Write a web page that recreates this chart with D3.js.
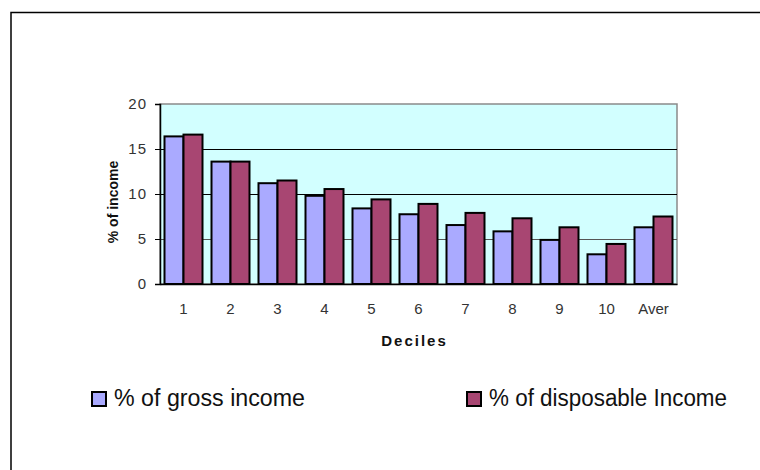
<!DOCTYPE html>
<html><head><meta charset="utf-8">
<script src="https://cdn.jsdelivr.net/npm/d3@7"></script>
<style>body{margin:0;background:#fff;} svg{display:block;font-family:"Liberation Sans",Arial,sans-serif;}</style>
</head><body>
<svg id="c" width="760" height="470"></svg>
<script>
const categories = ["1","2","3","4","5","6","7","8","9","10","Aver"];
const grossIncome = [16.4,13.6,11.2,9.8,8.4,7.75,6.55,5.85,4.9,3.3,6.3];
const disposableIncome = [16.6,13.6,11.5,10.55,9.4,8.9,7.9,7.3,6.3,4.45,7.5];
const seriesNames = ["% of gross income","% of disposable Income"];
const yTicks = [0,5,10,15,20];

const svg = d3.select("#c");
const L=160,R=677,T=104,B=284;
const colors=["#aaaaff","#a84672"];

// outer frame
svg.append("rect").attr("x",11).attr("y",12.5).attr("width",800).attr("height",500)
  .attr("fill","none").attr("stroke","#000").attr("stroke-width",1.5);

const x = d3.scaleBand().domain(categories).range([L,R]).paddingInner(0).paddingOuter(0);
const y = d3.scaleLinear().domain([0,20]).range([B,T]);
const inner = d3.scaleBand().domain([0,1]).range([0,x.bandwidth()]).paddingInner(0).paddingOuter(0.237);

// plot area
svg.append("rect").attr("x",L).attr("y",T).attr("width",R-L).attr("height",B-T)
  .attr("fill","#d2ffff").attr("stroke","#8a8a8a").attr("stroke-width",1.5);

// gridlines
svg.append("g").selectAll("line").data(yTicks.filter(t=>t>0&&t<20)).join("line")
  .attr("x1",L).attr("x2",R).attr("y1",d=>Math.round(y(d))+0.5).attr("y2",d=>Math.round(y(d))+0.5)
  .attr("stroke",d=>d===5?"#555":"#000").attr("stroke-width",1);

// bars
const data = categories.map((c,i)=>({c,v:[grossIncome[i],disposableIncome[i]]}));
const g = svg.append("g").selectAll("g").data(data).join("g")
  .attr("transform",d=>`translate(${x(d.c)},0)`);
g.selectAll("rect").data(d=>d.v.map((v,k)=>({v,k}))).join("rect")
  .attr("x",d=>inner(d.k)).attr("width",inner.bandwidth())
  .attr("y",d=>y(d.v)).attr("height",d=>B-y(d.v))
  .attr("fill",d=>colors[d.k]).attr("stroke","#000").attr("stroke-width",2);

// axes
const yAxis = svg.append("g").attr("transform",`translate(${L},0)`)
  .call(d3.axisLeft(y).tickValues(yTicks).tickSize(5).tickPadding(8).tickFormat(d3.format("d")));
yAxis.select(".domain").attr("stroke","#000").attr("stroke-width",1.5);
yAxis.selectAll("text").attr("font-size",15).attr("fill","#333").attr("letter-spacing",1)
  .attr("font-family","Liberation Sans, Arial, sans-serif");
yAxis.selectAll(".tick line").attr("stroke","#000");

const xAxis = svg.append("g").attr("transform",`translate(0,${B})`)
  .call(d3.axisBottom(x).tickSize(0).tickPadding(19));
xAxis.select(".domain").attr("stroke","#000").attr("stroke-width",1.5);
xAxis.selectAll("text").attr("font-size",15).attr("fill","#333")
  .attr("font-family","Liberation Sans, Arial, sans-serif");

// axis titles
svg.append("text").attr("x",(L+R)/2-4).attr("y",346).attr("text-anchor","middle")
  .attr("font-size",15).attr("font-weight","bold").attr("letter-spacing",2).attr("fill","#111").text("Deciles");
svg.append("text").attr("transform",`translate(118,${(T+B)/2+8}) rotate(-90)`).attr("text-anchor","middle")
  .attr("font-size",14).attr("font-weight","bold").attr("fill","#111").text("% of income");

// legend
const legX=[92,467];
const lg = svg.append("g").selectAll("g").data(seriesNames).join("g")
  .attr("transform",(d,i)=>`translate(${legX[i]},0)`);
lg.append("rect").attr("x",0).attr("y",392).attr("width",14).attr("height",14)
  .attr("fill",(d,i)=>colors[i]).attr("stroke","#000").attr("stroke-width",2);
lg.append("text").attr("x",22).attr("y",406).attr("font-size",23).attr("fill","#111")
  .attr("textLength",(d,i)=>i===0?191:238).attr("lengthAdjust","spacingAndGlyphs").text(d=>d);
</script>
</body></html>
